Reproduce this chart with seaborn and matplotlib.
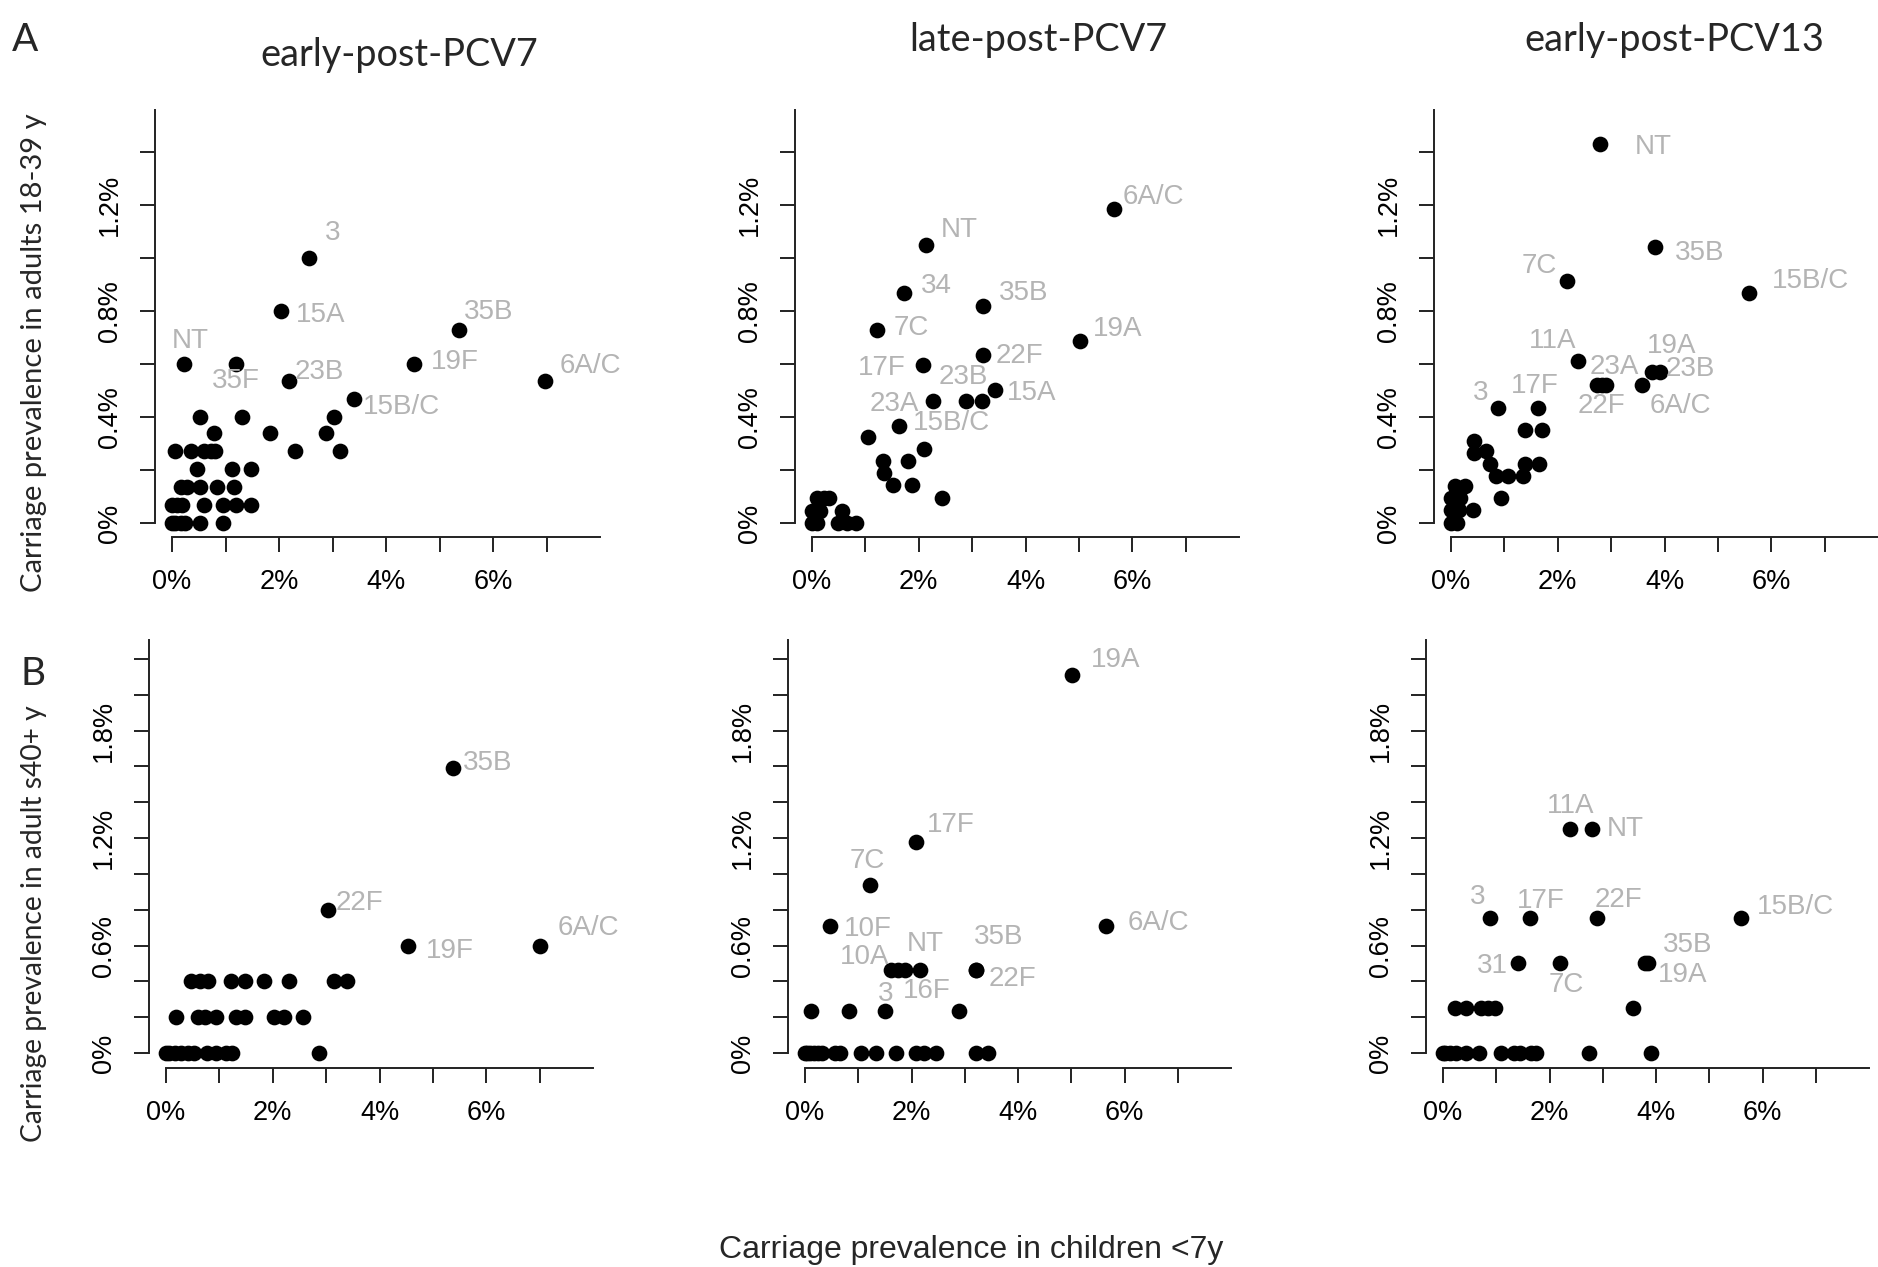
import numpy as np
import pandas as pd
import matplotlib
matplotlib.use("Agg")
import matplotlib.pyplot as plt
import seaborn as sns

# ---------------- data (percent) ----------------
col_titles = ["early-post-PCV7", "late-post-PCV7", "early-post-PCV13"]
row_letters = ["A", "B"]
row_ylabels = ["Carriage prevalence in adults 18-39 y", "Carriage prevalence in adult s40+ y"]
x_label = "Carriage prevalence in children <7y"

# Row A (adults 18-39 y)
a1_x = [2.56, 2.03, 5.36, 0.22, 1.19, 4.53, 2.19, 6.98, 3.40,
        0.53, 1.31, 3.03, 0.79, 1.83, 2.87,
        0.06, 0.36, 0.59, 0.72, 0.81, 2.29, 3.13,
        0.47, 1.12, 1.48, 0.16, 0.28, 0.52, 0.84, 1.15,
        0.00, 0.09, 0.19, 0.59, 0.95, 1.20, 1.48,
        0.00, 0.06, 0.16, 0.25, 0.52, 0.95]
a1_y = [1.00, 0.80, 0.73, 0.60, 0.60, 0.60, 0.537, 0.537, 0.469,
        0.40, 0.40, 0.40, 0.34, 0.34, 0.34,
        0.273, 0.273, 0.273, 0.273, 0.273, 0.273, 0.273,
        0.205, 0.205, 0.205, 0.136, 0.136, 0.136, 0.136, 0.136,
        0.068, 0.068, 0.068, 0.068, 0.068, 0.068, 0.068,
        0.0, 0.0, 0.0, 0.0, 0.0, 0.0]
a1_lab = ["3", "15A", "35B", "NT", "35F", "19F", "23B", "6A/C", "15B/C"]

a2_x = [5.65, 2.14, 1.72, 3.20, 1.21, 5.02, 3.20, 2.08, 3.43, 2.27, 2.89, 1.62,
        3.19, 1.04, 2.10, 1.32, 1.80, 1.35, 1.52, 1.88, 2.44,
        0.09, 0.22, 0.32, 0.00, 0.14, 0.57, 0.00, 0.10, 0.48, 0.65, 0.83]
a2_y = [1.186, 1.05, 0.868, 0.82, 0.73, 0.686, 0.636, 0.596, 0.503, 0.459, 0.459, 0.365,
        0.459, 0.325, 0.279, 0.233, 0.233, 0.189, 0.142, 0.142, 0.094,
        0.094, 0.094, 0.094, 0.047, 0.047, 0.047, 0.0, 0.0, 0.0, 0.0, 0.0]
a2_lab = ["6A/C", "NT", "34", "35B", "7C", "19A", "22F", "17F", "15A", "23A", "23B", "15B/C"]

a3_x = [2.79, 3.83, 2.18, 5.58, 2.38, 3.77, 3.91, 2.91, 2.74, 3.57, 0.88, 1.63,
        2.83, 1.39, 1.71, 0.43, 0.43, 0.66, 0.72, 1.39, 1.64, 0.84, 1.07, 1.34,
        0.94, 0.08, 0.27, 0.00, 0.17, 0.00, 0.14, 0.41, 0.00, 0.11]
a3_y = [1.43, 1.044, 0.914, 0.868, 0.61, 0.569, 0.569, 0.522, 0.522, 0.522, 0.434, 0.434,
        0.522, 0.352, 0.352, 0.308, 0.264, 0.27, 0.224, 0.224, 0.224, 0.176, 0.176, 0.176,
        0.094, 0.138, 0.138, 0.094, 0.094, 0.05, 0.05, 0.05, 0.0, 0.0]
a3_lab = ["NT", "35B", "7C", "15B/C", "11A", "19A", "23B", "23A", "22F", "6A/C", "3", "17F"]

# Row B (adults 40+ y)
b1_x = [5.375, 3.03, 4.53, 7.00,
        0.46, 0.64, 0.79, 1.21, 1.47, 1.83, 2.30, 3.14, 3.39,
        0.19, 0.59, 0.72, 0.94, 1.31, 1.47, 2.03, 2.21, 2.56,
        0.00, 0.06, 0.16, 0.28, 0.41, 0.52, 0.77, 0.94, 1.12, 1.23, 2.87]
b1_y = [1.59, 0.80, 0.60, 0.60,
        0.4, 0.4, 0.4, 0.4, 0.4, 0.4, 0.4, 0.4, 0.4,
        0.2, 0.2, 0.2, 0.2, 0.2, 0.2, 0.2, 0.2, 0.2,
        0, 0, 0, 0, 0, 0, 0, 0, 0, 0, 0]
b1_lab = ["35B", "22F", "19F", "6A/C"]

b2_x = [5.02, 2.09, 1.22, 0.47, 5.66, 3.21, 3.21, 1.62, 1.75, 1.87, 2.15,
        0.12, 0.82, 1.51, 2.90,
        0.00, 0.03, 0.09, 0.16, 0.24, 0.31, 0.56, 0.65, 1.05, 1.34, 1.71, 2.09, 2.24, 2.46, 3.21, 3.43]
b2_y = [2.108, 1.178, 0.936, 0.707, 0.707, 0.465, 0.465, 0.465, 0.465, 0.465, 0.465,
        0.234, 0.234, 0.234, 0.234,
        0, 0, 0, 0, 0, 0, 0, 0, 0, 0, 0, 0, 0, 0, 0, 0]
b2_lab = ["19A", "17F", "7C", "10F", "6A/C", "35B", "22F", "10A", "3", "16F", "NT"]

b3_x = [2.39, 2.79, 0.89, 1.63, 2.89, 5.59, 1.41, 2.19, 3.80, 3.85,
        3.56, 0.22, 0.43, 0.72, 0.84, 0.97,
        0.00, 0.03, 0.13, 0.24, 0.43, 0.68, 1.08, 1.34, 1.44, 1.66, 1.75, 2.75, 3.91]
b3_y = [1.252, 1.252, 0.755, 0.755, 0.755, 0.755, 0.504, 0.504, 0.504, 0.504,
        0.253, 0.253, 0.253, 0.253, 0.253, 0.253,
        0, 0, 0, 0, 0, 0, 0, 0, 0, 0, 0, 0, 0]
b3_lab = ["11A", "NT", "3", "17F", "22F", "15B/C", "31", "7C", "35B", "19A"]

# ---------------- layout (pixel offsets of labels, axes rects) ----------------
label_offsets = {
    "a1": [(24, 25), (40, -4), (30, 18), (6, 23), (0, -17), (40, 2), (30, 9), (45, 15), (48, -8)],
    "a2": [(40, 12), (33, 15), (33, 7), (41, 13), (35, 2), (38, 12), (37, -1), (-41, -3),
           (37, -3), (-39, -3), (-3, 24), (53, 3)],
    "a3": [(53, -3), (44, -6), (-28, 15), (62, 12), (-25, 20), (19, 26), (31, 3), (8, 18),
           (4, -21), (39, -21), (-17, 15), (-3, 22)],
    "b1": [(35, 5), (32, 7), (42, -5), (49, 18)],
    "b2": [(43, 15), (34, 17), (-3, 24), (38, -3), (52, 3), (23, 33), (36, -9), (-27, 13),
           (-13, -24), (22, -21), (6, 26)],
    "b3": [(0, 23), (34, 0), (-13, 21), (11, 17), (22, 18), (55, 11), (-26, -3), (7, -22),
           (42, 18), (35, -12)],
}

W, H = 1878, 1267
rects = {  # left, right, top, bottom in pixels
    "a1": (155, 600, 110, 537), "a2": (795, 1239, 110, 537), "a3": (1434, 1878, 110, 537),
    "b1": (149, 593, 640, 1068), "b2": (788, 1231, 640, 1068), "b3": (1426, 1869, 640, 1068),
}

panels = {
    "a1": (a1_x, a1_y, a1_lab), "a2": (a2_x, a2_y, a2_lab), "a3": (a3_x, a3_y, a3_lab),
    "b1": (b1_x, b1_y, b1_lab), "b2": (b2_x, b2_y, b2_lab), "b3": (b3_x, b3_y, b3_lab),
}

sns.set_style("white")
plt.rcParams['font.family'] = ['Liberation Sans', 'DejaVu Sans']
TITLE_FONT = ['Lato', 'DejaVu Sans']
LABEL_GRAY = '#b4b4b4'
AXCOL = '#222222'

fig = plt.figure(figsize=(W / 100, H / 100), dpi=100)

x_ticks = list(range(0, 8))
x_ticklabels = [f"{t}%" if t % 2 == 0 else "" for t in x_ticks]

for key, (xs, ys, labs) in panels.items():
    l, r, t, b = rects[key]
    ax = fig.add_axes([l / W, 1 - b / H, (r - l) / W, (b - t) / H])
    df = pd.DataFrame({"x": xs, "y": ys})
    sns.scatterplot(data=df, x="x", y="y", ax=ax, color="black", s=128,
                    linewidth=0, legend=False, zorder=3, clip_on=False)
    top_row = key.startswith("a")
    if top_row:
        ylim = (-0.053, 1.56)
        y_ticks = [round(0.2 * i, 1) for i in range(8)]
        y_show = {0.0, 0.4, 0.8, 1.2}
    else:
        ylim = (-0.083, 2.305)
        y_ticks = [round(0.2 * i, 1) for i in range(12)]
        y_show = {0.0, 0.6, 1.2, 1.8}
    ax.set_xlim(-0.32, 8.0)
    ax.set_ylim(*ylim)
    ax.set_xticks(x_ticks)
    ax.set_xticklabels(x_ticklabels)
    ax.set_yticks(y_ticks)
    ax.set_yticklabels([f"{v:g}%" if v in y_show else "" for v in y_ticks],
                       rotation=90, va="center")
    for side in ("top", "right"):
        ax.spines[side].set_visible(False)
    ax.spines["left"].set_bounds(0, ylim[1])
    ax.spines["bottom"].set_bounds(0, 8.0)
    for side in ("left", "bottom"):
        ax.spines[side].set_color(AXCOL)
        ax.spines[side].set_linewidth(1.4)
    ax.tick_params(axis="both", direction="out", length=11, width=1.4, color=AXCOL,
                   labelsize=19.5, labelcolor="black", pad=12,
                   bottom=True, left=True)
    ax.set_xlabel("")
    ax.set_ylabel("")
    for i, lab in enumerate(labs):
        dx, dy = label_offsets[key][i]
        ax.annotate(lab, (xs[i], ys[i]), xytext=(dx, dy), textcoords="offset pixels",
                    ha="center", va="center", color=LABEL_GRAY, fontsize=20,
                    annotation_clip=False, zorder=4)
    ax.patch.set_alpha(0)

# column titles
title_pos = [(399, 55), (1038, 40), (1674, 40)]
for txt, (px, py) in zip(col_titles, title_pos):
    fig.text(px / W, 1 - py / H, txt, ha="center", va="center", fontsize=27.3,
             family=TITLE_FONT)

# row letters
fig.text(25 / W, 1 - 40 / H, row_letters[0], ha="center", va="center", fontsize=28, family=TITLE_FONT)
fig.text(33 / W, 1 - 674 / H, row_letters[1], ha="center", va="center", fontsize=28, family=TITLE_FONT)

# row y labels
fig.text(34 / W, 1 - 353 / H, row_ylabels[0], ha="center", va="center", rotation=90,
         fontsize=21, family=TITLE_FONT)
fig.text(34 / W, 1 - 924 / H, row_ylabels[1], ha="center", va="center", rotation=90,
         fontsize=20.3, family=TITLE_FONT)

# common x label
fig.text(971 / W, 1 - 1250 / H, x_label, ha="center", va="center", fontsize=23)

fig.savefig("out.png", dpi=100, facecolor="white")
